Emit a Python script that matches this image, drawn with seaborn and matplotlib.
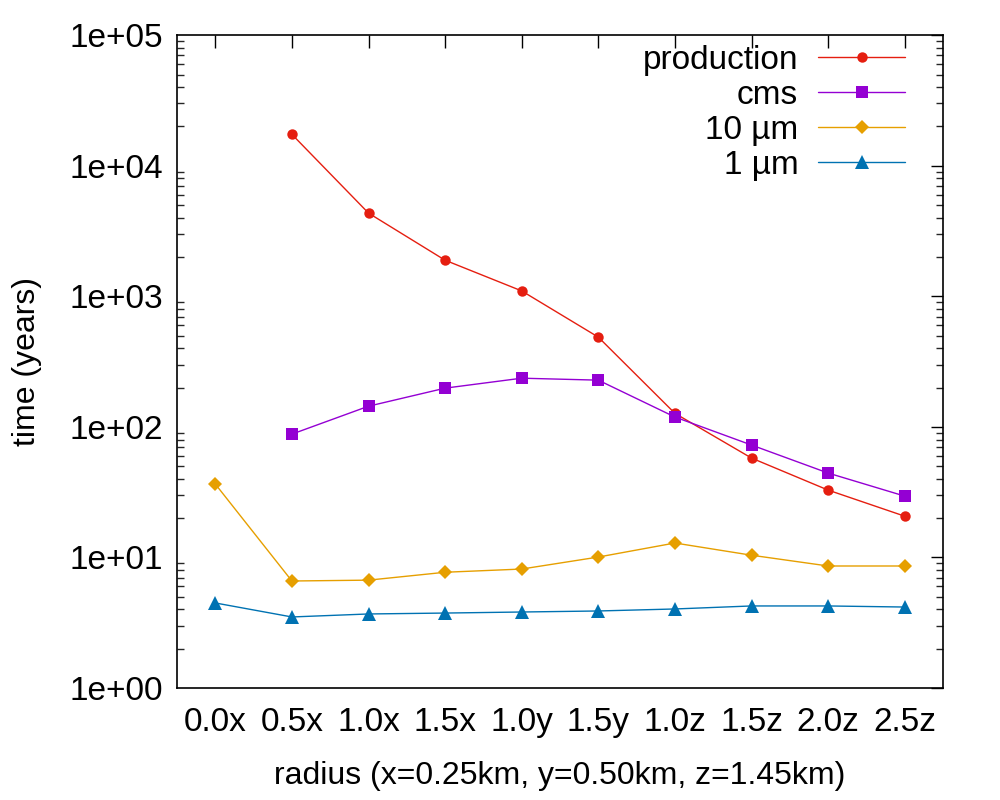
import matplotlib
matplotlib.use("Agg")
import matplotlib.pyplot as plt
import seaborn as sns
import pandas as pd
import numpy as np
from matplotlib.ticker import LogLocator, NullFormatter, FixedLocator

categories = ["0.0x", "0.5x", "1.0x", "1.5x", "1.0y", "1.5y", "1.0z", "1.5z", "2.0z", "2.5z"]
production = [np.nan, 17400, 4340, 1890, 1100, 487, 127, 57.7, 32.8, 20.7]
cms = [np.nan, 88, 144, 198, 236, 228, 119, 72.6, 44.3, 29.5]
um10 = [36.5, 6.6, 6.7, 7.7, 8.15, 10.07, 12.9, 10.4, 8.6, 8.6]
um1 = [4.48, 3.50, 3.69, 3.75, 3.82, 3.89, 4.03, 4.25, 4.25, 4.17]
ytick_labels = ["1e+00", "1e+01", "1e+02", "1e+03", "1e+04", "1e+05"]

series_names = ["production", "cms", "10 µm", "1 µm"]
series_vals = [production, cms, um10, um1]
colors = ["#e51e10", "#9400d3", "#e69f00", "#0072b2"]
markers = ["o", "s", "D", "^"]
msizes = [7.5, 8.5, 7, 10]

sns.set_theme(style="white")
plt.rcParams["font.family"] = ["Liberation Sans", "DejaVu Sans"]
plt.rcParams["text.color"] = "black"
plt.rcParams["axes.labelcolor"] = "black"

fig = plt.figure(figsize=(10, 8), dpi=100)
ax = fig.add_axes([0.177, 0.14, 0.766, 0.816])

rows = []
for name, vals in zip(series_names, series_vals):
    for i, v in enumerate(vals):
        if not np.isnan(v):
            rows.append({"idx": i, "time": v, "series": name})
df = pd.DataFrame(rows)

for name, col, mk, ms in zip(series_names, colors, markers, msizes):
    sub = df[df["series"] == name]
    sns.lineplot(data=sub, x="idx", y="time", ax=ax, color=col, marker=mk,
                 markersize=ms, markeredgewidth=0, linewidth=1, label=name)

ax.set_yscale("log")
ax.set_ylim(1, 1e5)
ax.set_xlim(-0.5, len(categories) - 0.5)
ax.set_xticks(range(len(categories)))
ax.set_xticklabels(categories)
ax.yaxis.set_major_locator(FixedLocator([1, 10, 100, 1000, 1e4, 1e5]))
ax.set_yticklabels(ytick_labels)
ax.yaxis.set_minor_locator(LogLocator(base=10, subs=np.arange(2, 10), numticks=20))
ax.yaxis.set_minor_formatter(NullFormatter())

ax.tick_params(axis="both", which="major", direction="in", length=9, width=1,
               top=True, right=True, labelsize=24, colors="black")
ax.tick_params(axis="x", which="major", pad=14)
ax.tick_params(axis="y", which="major", pad=10)
ax.tick_params(axis="y", which="minor", direction="in", length=5, width=1,
               left=True, right=True)
for s in ax.spines.values():
    s.set_color("black")
    s.set_linewidth(1.2)
ax.grid(False)

ax.set_xlabel("radius (x=0.25km, y=0.50km, z=1.45km)", fontsize=23, labelpad=16)
ax.set_ylabel("time (years)", fontsize=23, labelpad=20)

leg = ax.legend(loc="upper right", bbox_to_anchor=(0.905, 1 - 45 / 800),
                bbox_transform=fig.transFigure, frameon=False, fontsize=24,
                markerfirst=False, handlelength=2.6, handletextpad=0.6,
                labelspacing=0.12, borderaxespad=0, borderpad=0)

fig.savefig("out.png", dpi=100)
